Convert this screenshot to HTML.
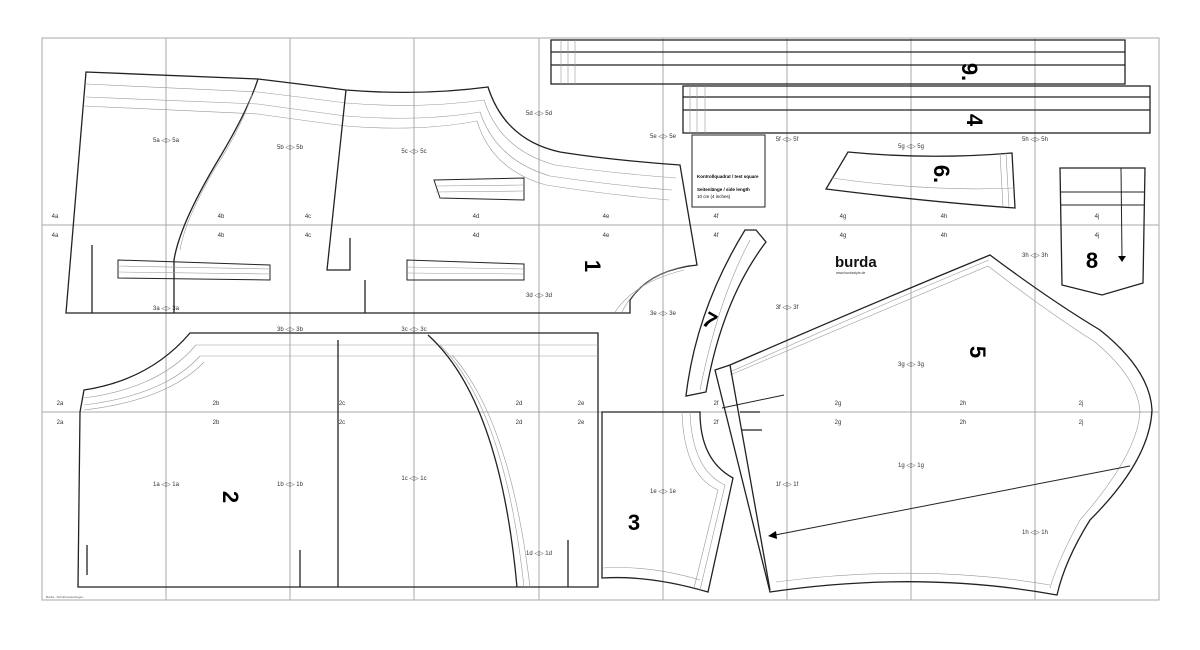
<!DOCTYPE html>
<html><head><meta charset="utf-8"><style>
html,body{margin:0;padding:0;background:#fff;}
svg{display:block;font-family:"Liberation Sans",sans-serif;}
.g{stroke:#aaa;stroke-width:1;fill:none}
.p{stroke:#222;stroke-width:1.3;fill:none}
.t{stroke:#999;stroke-width:.6;fill:none}
.l{font-size:6px;fill:#333;text-anchor:middle}
.n{font-size:22px;font-weight:bold;fill:#000;text-anchor:middle}
</style></head><body>
<svg width="1200" height="650" viewBox="0 0 1200 650">
<rect x="0" y="0" width="1200" height="650" fill="#fff"/>
<rect class="g" x="42" y="38" width="1117" height="562"/>
<g class="g">
<line x1="166" y1="38" x2="166" y2="600"/><line x1="290" y1="38" x2="290" y2="600"/>
<line x1="414" y1="38" x2="414" y2="600"/><line x1="539" y1="38" x2="539" y2="600"/>
<line x1="663" y1="38" x2="663" y2="600"/><line x1="787" y1="38" x2="787" y2="600"/>
<line x1="911" y1="38" x2="911" y2="600"/><line x1="1035" y1="38" x2="1035" y2="600"/>
<line x1="42" y1="225" x2="1159" y2="225"/><line x1="42" y1="412" x2="1159" y2="412"/>
</g>

<!-- piece 1 -->
<path class="p" d="M86,72 L258,79 Q300,84 346,90 Q420,96 488,87 Q505,140 560,152 Q610,160 680,165 L697,265 Q650,270 630,300 L630,313 L66,313 Z"/>
<path class="t" d="M86,84 L258,92 Q300,97 346,103 Q420,109 484,100 Q500,150 555,165 Q610,173 676,178 M86,97 L258,104 Q300,110 346,116 Q420,122 480,112 Q496,160 550,176 Q610,185 672,190 M84,106 L258,114 Q300,120 346,126 Q420,132 477,121 Q492,170 546,185 Q610,195 669,200"/>
<path class="t" d="M690,265 Q640,275 622,312 M684,270 Q635,282 615,312"/>
<path class="p" d="M258,79 Q248,110 220,157 Q180,223 174,260 L174,313"/>
<path class="t" d="M252,95 Q240,130 214,170 Q185,220 180,250"/>
<path class="p" d="M346,90 L327,270 L350,270 L350,238"/>
<path class="p" d="M118,260 L118,278 L270,280 L270,265 Z" style="stroke-width:1"/>
<path class="t" d="M118,266 L270,269 M118,272 L270,274"/>
<path class="p" d="M407,260 L407,280 L524,280 L524,264 Z" style="stroke-width:1"/>
<path class="t" d="M407,267 L524,269 M407,273 L524,274"/>
<path class="p" d="M434,180 L524,178 L524,200 L440,198 Z" style="stroke-width:1"/>
<path class="t" d="M436,186 L524,185 M436,192 L524,191"/>
<line class="p" x1="92" y1="245" x2="92" y2="313"/><line class="p" x1="365" y1="280" x2="365" y2="313"/>
<text class="n" x="593" y="274" transform="rotate(90 593 266)">1</text>

<!-- piece 2 -->
<path class="p" d="M80,412 L84,390 Q150,380 190,333 L598,333 L598,587 L78,587 Z"/>
<path class="t" d="M84,398 Q160,388 196,345 L598,345 M84,405 Q165,395 200,356 L598,356 M84,410 Q168,400 204,362"/>
<line class="p" x1="338" y1="340" x2="338" y2="587"/>
<path class="p" d="M428,335 Q500,400 517,587"/>
<path class="t" d="M440,345 Q505,410 524,587 M452,355 Q510,420 530,587"/>
<line class="p" x1="87" y1="545" x2="87" y2="575"/>
<line class="p" x1="300" y1="550" x2="300" y2="587"/><line class="p" x1="568" y1="540" x2="568" y2="587"/>
<text class="n" x="231" y="505" transform="rotate(90 231 497)">2</text>

<!-- piece 3 -->
<path class="p" d="M602,412 L700,412 Q700,460 733,478 L708,592 Q650,575 602,578 Z"/>
<path class="t" d="M690,412 Q692,470 725,485 L700,590 M682,412 Q684,475 718,490 L694,588 M602,568 Q650,565 700,580"/>
<text class="n" x="634" y="530">3</text>

<!-- piece 5 -->
<path class="p" d="M715,370 L730,365 Q880,300 990,255 Q1050,300 1100,330 Q1150,370 1152,410 Q1150,460 1090,520 Q1065,560 1057,595 Q920,570 770,592 Z"/>
<path class="t" d="M730,375 Q880,312 988,266 Q1045,310 1095,342 Q1138,378 1140,412 Q1137,455 1080,520 Q1058,560 1050,588 M730,372 Q880,305 989,260 M776,582 Q920,563 1050,585"/>
<path class="p" d="M730,365 L770,590 M740,412 L760,412 M742,430 L762,430"/>
<line class="p" x1="722" y1="408" x2="784" y2="395" style="stroke-width:1"/>
<line class="p" x1="1130" y1="466" x2="770" y2="536" style="stroke-width:1"/>
<polygon points="768,536 776,531 777,539" fill="#000"/>
<text class="n" x="978" y="360" transform="rotate(90 978 352)">5</text>

<!-- piece 9 -->
<rect class="p" x="551" y="40" width="574" height="44"/>
<line class="p" x1="551" y1="52" x2="1125" y2="52"/><line class="p" x1="551" y1="65" x2="1125" y2="65"/>
<path class="t" d="M561,40 V84 M568,40 V84 M575,40 V84"/>
<text class="n" x="970" y="80" transform="rotate(90 970 72)">9.</text>
<!-- piece 4 -->
<rect class="p" x="683" y="86" width="467" height="47"/>
<line class="p" x1="683" y1="97" x2="1150" y2="97"/><line class="p" x1="683" y1="110" x2="1150" y2="110"/>
<path class="t" d="M690,86 V133 M697,86 V133 M705,86 V133"/>
<text class="n" x="975" y="128" transform="rotate(90 975 120)">4</text>
<!-- test square -->
<rect x="692" y="135" width="73" height="72" fill="none" stroke="#222" stroke-width="1"/>
<text x="697" y="178" style="font-size:4.5px;font-weight:bold">Kontrollquadrat / test square</text>
<text x="697" y="191" style="font-size:4.5px;font-weight:bold">Seitenlänge / side length</text>
<text x="697" y="198" style="font-size:4.5px">10 cm (4 inches)</text>
<!-- piece 6 -->
<path class="p" d="M848,152 Q930,160 1012,153 L1015,208 Q930,202 826,189 Z"/>
<path class="t" d="M832,178 Q930,192 1014,188 M1000,153 L1003,207 M1006,153 L1009,207"/>
<text class="n" x="942" y="182" transform="rotate(90 942 174)">6.</text>
<!-- piece 7 -->
<path class="p" d="M756,230 L766,242 Q722,300 706,392 L686,396 Q696,310 745,230 Z"/>
<path class="t" d="M750,240 Q718,300 700,390"/>
<text class="n" x="710" y="328" transform="rotate(30 710 320)">7</text>
<!-- piece 8 -->
<path class="p" d="M1060,168 L1145,168 L1143,283 L1102,295 L1062,285 Z"/>
<path class="p" d="M1060,192 L1145,192 M1060,205 L1145,205 M1121,168 L1122,258" style="stroke-width:1"/>
<polygon points="1118,256 1126,256 1122,262" fill="#000"/>
<text class="n" x="1092" y="268">8</text>
<!-- burda -->
<text x="835" y="267" style="font-size:15px;font-weight:bold;fill:#111">burda</text>
<text x="836" y="274" style="font-size:3.5px;fill:#333">www.burdastyle.de</text>

<g class="l">
<text x="166" y="142">5a ◁▷ 5a</text><text x="290" y="149">5b ◁▷ 5b</text><text x="414" y="153">5c ◁▷ 5c</text>
<text x="539" y="115">5d ◁▷ 5d</text><text x="663" y="138">5e ◁▷ 5e</text><text x="787" y="141">5f ◁▷ 5f</text>
<text x="911" y="148">5g ◁▷ 5g</text><text x="1035" y="141">5h ◁▷ 5h</text>
<text x="166" y="310">3a ◁▷ 3a</text><text x="290" y="331">3b ◁▷ 3b</text><text x="414" y="331">3c ◁▷ 3c</text>
<text x="539" y="297">3d ◁▷ 3d</text><text x="663" y="315">3e ◁▷ 3e</text><text x="787" y="309">3f ◁▷ 3f</text>
<text x="911" y="366">3g ◁▷ 3g</text><text x="1035" y="257">3h ◁▷ 3h</text>
<text x="166" y="486">1a ◁▷ 1a</text><text x="290" y="486">1b ◁▷ 1b</text><text x="414" y="480">1c ◁▷ 1c</text>
<text x="539" y="555">1d ◁▷ 1d</text><text x="663" y="493">1e ◁▷ 1e</text><text x="787" y="486">1f ◁▷ 1f</text>
<text x="911" y="467">1g ◁▷ 1g</text><text x="1035" y="534">1h ◁▷ 1h</text>
<text x="55" y="218">4a</text><text x="55" y="237">4a</text><text x="221" y="218">4b</text><text x="221" y="237">4b</text>
<text x="308" y="218">4c</text><text x="308" y="237">4c</text><text x="476" y="218">4d</text><text x="476" y="237">4d</text>
<text x="606" y="218">4e</text><text x="606" y="237">4e</text><text x="716" y="218">4f</text><text x="716" y="237">4f</text>
<text x="843" y="218">4g</text><text x="843" y="237">4g</text><text x="944" y="218">4h</text><text x="944" y="237">4h</text>
<text x="1097" y="218">4j</text><text x="1097" y="237">4j</text>
<text x="60" y="405">2a</text><text x="60" y="424">2a</text><text x="216" y="405">2b</text><text x="216" y="424">2b</text>
<text x="342" y="405">2c</text><text x="342" y="424">2c</text><text x="519" y="405">2d</text><text x="519" y="424">2d</text>
<text x="581" y="405">2e</text><text x="581" y="424">2e</text><text x="716" y="405">2f</text><text x="716" y="424">2f</text>
<text x="838" y="405">2g</text><text x="838" y="424">2g</text><text x="963" y="405">2h</text><text x="963" y="424">2h</text>
<text x="1081" y="405">2j</text><text x="1081" y="424">2j</text>
</g>
<text x="46" y="598" style="font-size:3px;fill:#555">Burda · Schnittmusterbogen</text>
</svg>
</body></html>
